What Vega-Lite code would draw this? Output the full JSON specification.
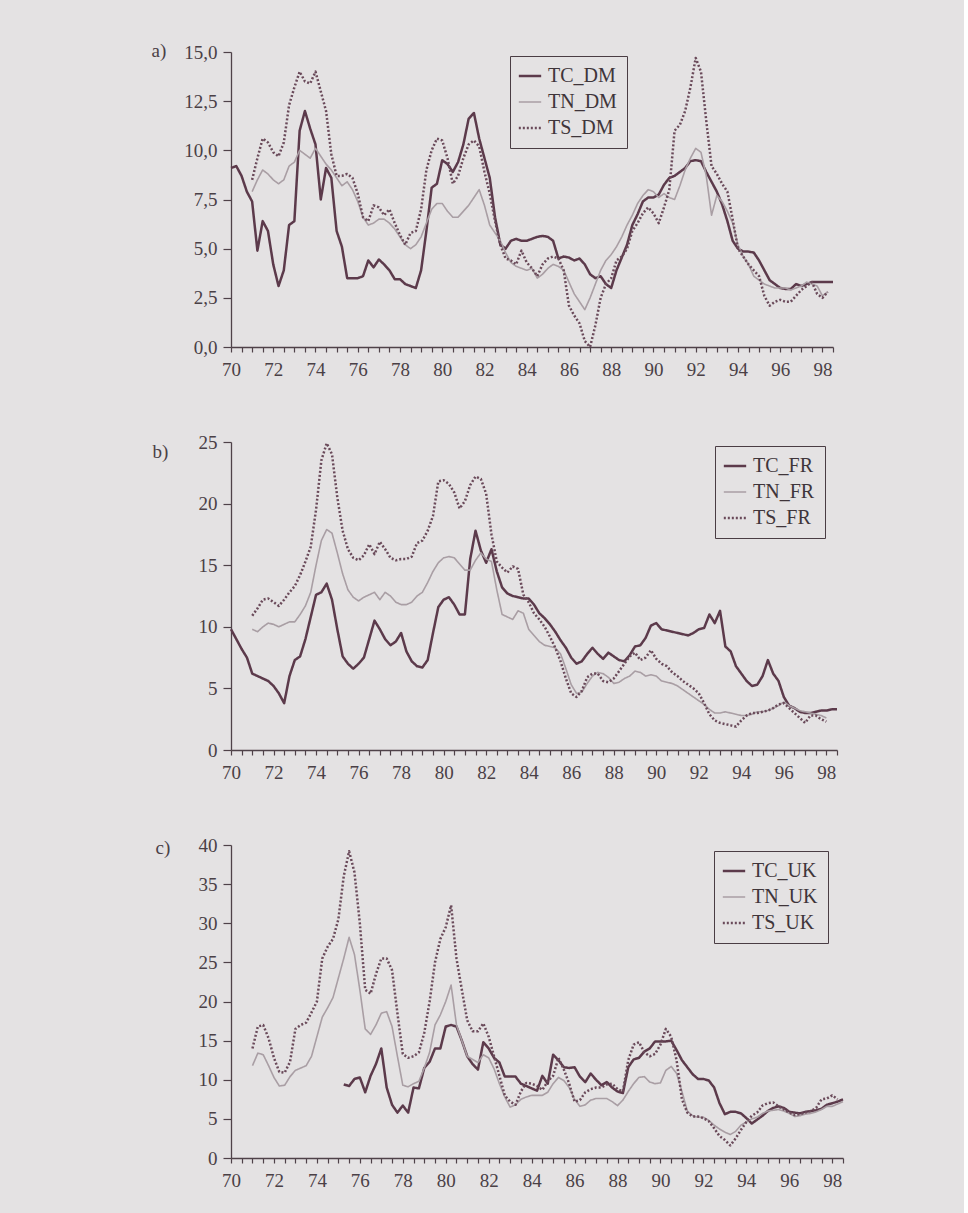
{
  "$schema": "https://vega.github.io/schema/vega-lite/v6.json",
  "background": "#e4e2e3",
  "padding": {"left": 151, "top": 41, "right": 119, "bottom": 30},
  "spacing": 54,
  "datasets": {
    "a": [
      {"t":70,"TC_DM":9.1},{"t":70.25,"TC_DM":9.2},{"t":70.5,"TC_DM":8.7},{"t":70.75,"TC_DM":7.9},
      {"t":71,"TC_DM":7.4,"TN_DM":7.9,"TS_DM":8.5},{"t":71.25,"TC_DM":4.9,"TN_DM":8.5,"TS_DM":9.6},{"t":71.5,"TC_DM":6.4,"TN_DM":9.0,"TS_DM":10.6},{"t":71.75,"TC_DM":5.9,"TN_DM":8.8,"TS_DM":10.4},
      {"t":72,"TC_DM":4.2,"TN_DM":8.5,"TS_DM":9.9},{"t":72.25,"TC_DM":3.1,"TN_DM":8.3,"TS_DM":9.7},{"t":72.5,"TC_DM":3.9,"TN_DM":8.5,"TS_DM":10.4},{"t":72.75,"TC_DM":6.2,"TN_DM":9.2,"TS_DM":12.3},
      {"t":73,"TC_DM":6.4,"TN_DM":9.4,"TS_DM":13.2},{"t":73.25,"TC_DM":11.0,"TN_DM":10.0,"TS_DM":14.0},{"t":73.5,"TC_DM":12.0,"TN_DM":9.8,"TS_DM":13.5},{"t":73.75,"TC_DM":11.1,"TN_DM":9.6,"TS_DM":13.4},
      {"t":74,"TC_DM":10.3,"TN_DM":10.1,"TS_DM":14.0},{"t":74.25,"TC_DM":7.5,"TN_DM":9.7,"TS_DM":13.0},{"t":74.5,"TC_DM":9.1,"TN_DM":9.3,"TS_DM":12.0},{"t":74.75,"TC_DM":8.6,"TN_DM":9.0,"TS_DM":9.8},
      {"t":75,"TC_DM":5.9,"TN_DM":8.6,"TS_DM":8.7},{"t":75.25,"TC_DM":5.1,"TN_DM":8.2,"TS_DM":8.7},{"t":75.5,"TC_DM":3.5,"TN_DM":8.4,"TS_DM":8.8},{"t":75.75,"TC_DM":3.5,"TN_DM":8.0,"TS_DM":8.6},
      {"t":76,"TC_DM":3.5,"TN_DM":7.4,"TS_DM":7.8},{"t":76.25,"TC_DM":3.6,"TN_DM":6.6,"TS_DM":6.6},{"t":76.5,"TC_DM":4.4,"TN_DM":6.2,"TS_DM":6.4},{"t":76.75,"TC_DM":4.05,"TN_DM":6.3,"TS_DM":7.2},
      {"t":77,"TC_DM":4.45,"TN_DM":6.5,"TS_DM":7.1},{"t":77.25,"TC_DM":4.2,"TN_DM":6.5,"TS_DM":6.7},{"t":77.5,"TC_DM":3.9,"TN_DM":6.3,"TS_DM":7.0},{"t":77.75,"TC_DM":3.45,"TN_DM":6.0,"TS_DM":6.3},
      {"t":78,"TC_DM":3.45,"TN_DM":5.6,"TS_DM":5.7},{"t":78.25,"TC_DM":3.2,"TN_DM":5.2,"TS_DM":5.2},{"t":78.5,"TC_DM":3.1,"TN_DM":5.0,"TS_DM":5.8},{"t":78.75,"TC_DM":3.0,"TN_DM":5.2,"TS_DM":5.9},
      {"t":79,"TC_DM":3.9,"TN_DM":5.6,"TS_DM":7.0},{"t":79.25,"TC_DM":5.9,"TN_DM":6.3,"TS_DM":9.0},{"t":79.5,"TC_DM":8.1,"TN_DM":7.0,"TS_DM":10.0},{"t":79.75,"TC_DM":8.3,"TN_DM":7.3,"TS_DM":10.6},
      {"t":80,"TC_DM":9.5,"TN_DM":7.3,"TS_DM":10.5},{"t":80.25,"TC_DM":9.3,"TN_DM":6.9,"TS_DM":9.6},{"t":80.5,"TC_DM":8.9,"TN_DM":6.6,"TS_DM":8.3},{"t":80.75,"TC_DM":9.4,"TN_DM":6.6,"TS_DM":8.7},
      {"t":81,"TC_DM":10.3,"TN_DM":6.9,"TS_DM":9.6},{"t":81.25,"TC_DM":11.6,"TN_DM":7.2,"TS_DM":10.3},{"t":81.5,"TC_DM":11.9,"TN_DM":7.6,"TS_DM":10.5},{"t":81.75,"TC_DM":10.6,"TN_DM":8.0,"TS_DM":10.2},
      {"t":82,"TC_DM":9.6,"TN_DM":7.2,"TS_DM":8.9},{"t":82.25,"TC_DM":8.6,"TN_DM":6.2,"TS_DM":7.8},{"t":82.5,"TC_DM":6.6,"TN_DM":5.8,"TS_DM":6.4},{"t":82.75,"TC_DM":5.2,"TN_DM":5.4,"TS_DM":5.2},
      {"t":83,"TC_DM":5.0,"TN_DM":4.8,"TS_DM":4.5},{"t":83.25,"TC_DM":5.4,"TN_DM":4.3,"TS_DM":4.4},{"t":83.5,"TC_DM":5.5,"TN_DM":4.1,"TS_DM":4.2},{"t":83.75,"TC_DM":5.4,"TN_DM":4.0,"TS_DM":4.9},
      {"t":84,"TC_DM":5.4,"TN_DM":3.9,"TS_DM":4.3},{"t":84.25,"TC_DM":5.5,"TN_DM":4.0,"TS_DM":4.0},{"t":84.5,"TC_DM":5.6,"TN_DM":3.5,"TS_DM":3.6},{"t":84.75,"TC_DM":5.65,"TN_DM":3.7,"TS_DM":4.2},
      {"t":85,"TC_DM":5.6,"TN_DM":4.0,"TS_DM":4.5},{"t":85.25,"TC_DM":5.4,"TN_DM":4.2,"TS_DM":4.6},{"t":85.5,"TC_DM":4.5,"TN_DM":4.1,"TS_DM":4.5},{"t":85.75,"TC_DM":4.6,"TN_DM":3.9,"TS_DM":3.9},
      {"t":86,"TC_DM":4.55,"TN_DM":3.3,"TS_DM":2.1},{"t":86.25,"TC_DM":4.4,"TN_DM":2.7,"TS_DM":1.6},{"t":86.5,"TC_DM":4.5,"TN_DM":2.3,"TS_DM":1.2},{"t":86.75,"TC_DM":4.2,"TN_DM":1.9,"TS_DM":0.3},
      {"t":87,"TC_DM":3.7,"TN_DM":2.5,"TS_DM":0.0},{"t":87.25,"TC_DM":3.5,"TN_DM":3.2,"TS_DM":1.1},{"t":87.5,"TC_DM":3.6,"TN_DM":3.9,"TS_DM":2.5},{"t":87.75,"TC_DM":3.2,"TN_DM":4.4,"TS_DM":3.2},
      {"t":88,"TC_DM":3.0,"TN_DM":4.7,"TS_DM":3.5},{"t":88.25,"TC_DM":3.9,"TN_DM":5.1,"TS_DM":4.4},{"t":88.5,"TC_DM":4.55,"TN_DM":5.6,"TS_DM":4.6},{"t":88.75,"TC_DM":5.2,"TN_DM":6.2,"TS_DM":5.0},
      {"t":89,"TC_DM":6.2,"TN_DM":6.7,"TS_DM":5.9},{"t":89.25,"TC_DM":6.75,"TN_DM":7.3,"TS_DM":6.3},{"t":89.5,"TC_DM":7.4,"TN_DM":7.7,"TS_DM":6.8},{"t":89.75,"TC_DM":7.6,"TN_DM":8.0,"TS_DM":7.1},
      {"t":90,"TC_DM":7.6,"TN_DM":7.9,"TS_DM":6.8},{"t":90.25,"TC_DM":7.75,"TN_DM":7.6,"TS_DM":6.3},{"t":90.5,"TC_DM":8.25,"TN_DM":7.8,"TS_DM":7.1},{"t":90.75,"TC_DM":8.6,"TN_DM":7.6,"TS_DM":8.0},
      {"t":91,"TC_DM":8.7,"TN_DM":7.5,"TS_DM":11.0},{"t":91.25,"TC_DM":8.9,"TN_DM":8.2,"TS_DM":11.3},{"t":91.5,"TC_DM":9.1,"TN_DM":9.0,"TS_DM":12.0},{"t":91.75,"TC_DM":9.45,"TN_DM":9.6,"TS_DM":13.2},
      {"t":92,"TC_DM":9.5,"TN_DM":10.1,"TS_DM":14.7},{"t":92.25,"TC_DM":9.45,"TN_DM":9.9,"TS_DM":14.0},{"t":92.5,"TC_DM":8.9,"TN_DM":8.7,"TS_DM":11.5},{"t":92.75,"TC_DM":8.4,"TN_DM":6.7,"TS_DM":9.2},
      {"t":93,"TC_DM":7.9,"TN_DM":7.7,"TS_DM":8.8},{"t":93.25,"TC_DM":7.25,"TN_DM":7.4,"TS_DM":8.3},{"t":93.5,"TC_DM":6.4,"TN_DM":6.9,"TS_DM":7.9},{"t":93.75,"TC_DM":5.4,"TN_DM":6.3,"TS_DM":6.5},
      {"t":94,"TC_DM":5.0,"TN_DM":5.2,"TS_DM":5.0},{"t":94.25,"TC_DM":4.85,"TN_DM":4.6,"TS_DM":4.6},{"t":94.5,"TC_DM":4.85,"TN_DM":4.2,"TS_DM":4.2},{"t":94.75,"TC_DM":4.8,"TN_DM":3.6,"TS_DM":3.9},
      {"t":95,"TC_DM":4.4,"TN_DM":3.4,"TS_DM":3.6},{"t":95.25,"TC_DM":3.9,"TN_DM":3.2,"TS_DM":2.6},{"t":95.5,"TC_DM":3.4,"TN_DM":3.1,"TS_DM":2.1},{"t":95.75,"TC_DM":3.2,"TN_DM":3.0,"TS_DM":2.3},
      {"t":96,"TC_DM":3.0,"TN_DM":3.0,"TS_DM":2.4},{"t":96.25,"TC_DM":2.95,"TN_DM":3.0,"TS_DM":2.3},{"t":96.5,"TC_DM":2.95,"TN_DM":2.9,"TS_DM":2.3},{"t":96.75,"TC_DM":3.2,"TN_DM":3.0,"TS_DM":2.6},
      {"t":97,"TC_DM":3.1,"TN_DM":3.1,"TS_DM":2.9},{"t":97.25,"TC_DM":3.2,"TN_DM":3.3,"TS_DM":3.1},{"t":97.5,"TC_DM":3.3,"TN_DM":3.2,"TS_DM":3.3},{"t":97.75,"TC_DM":3.3,"TN_DM":3.1,"TS_DM":2.7},
      {"t":98,"TC_DM":3.3,"TN_DM":2.6,"TS_DM":2.5},{"t":98.25,"TC_DM":3.3,"TN_DM":2.8,"TS_DM":2.8},{"t":98.5,"TC_DM":3.3}
    ],
    "b": [
      {"t":70,"TC_FR":9.8},{"t":70.25,"TC_FR":9.0},{"t":70.5,"TC_FR":8.2},{"t":70.75,"TC_FR":7.5},
      {"t":71,"TC_FR":6.2,"TN_FR":9.8,"TS_FR":10.9},{"t":71.25,"TC_FR":6.0,"TN_FR":9.6,"TS_FR":11.5},{"t":71.5,"TC_FR":5.8,"TN_FR":10.0,"TS_FR":12.2},{"t":71.75,"TC_FR":5.6,"TN_FR":10.3,"TS_FR":12.3},
      {"t":72,"TC_FR":5.2,"TN_FR":10.2,"TS_FR":12.0},{"t":72.25,"TC_FR":4.6,"TN_FR":10.0,"TS_FR":11.7},{"t":72.5,"TC_FR":3.8,"TN_FR":10.2,"TS_FR":12.2},{"t":72.75,"TC_FR":6.0,"TN_FR":10.4,"TS_FR":12.8},
      {"t":73,"TC_FR":7.3,"TN_FR":10.4,"TS_FR":13.3},{"t":73.25,"TC_FR":7.6,"TN_FR":11.0,"TS_FR":14.2},{"t":73.5,"TC_FR":9.0,"TN_FR":11.7,"TS_FR":15.3},{"t":73.75,"TC_FR":10.8,"TN_FR":12.8,"TS_FR":16.5},
      {"t":74,"TC_FR":12.6,"TN_FR":15.0,"TS_FR":19.5},{"t":74.25,"TC_FR":12.8,"TN_FR":17.0,"TS_FR":23.5},{"t":74.5,"TC_FR":13.5,"TN_FR":17.9,"TS_FR":24.9},{"t":74.75,"TC_FR":12.2,"TN_FR":17.6,"TS_FR":24.0},
      {"t":75,"TC_FR":9.8,"TN_FR":16.0,"TS_FR":20.5},{"t":75.25,"TC_FR":7.6,"TN_FR":14.3,"TS_FR":17.8},{"t":75.5,"TC_FR":7.0,"TN_FR":13.0,"TS_FR":16.3},{"t":75.75,"TC_FR":6.6,"TN_FR":12.4,"TS_FR":15.6},
      {"t":76,"TC_FR":7.0,"TN_FR":12.1,"TS_FR":15.4},{"t":76.25,"TC_FR":7.5,"TN_FR":12.4,"TS_FR":15.8},{"t":76.5,"TC_FR":9.0,"TN_FR":12.6,"TS_FR":16.7},{"t":76.75,"TC_FR":10.5,"TN_FR":12.8,"TS_FR":15.9},
      {"t":77,"TC_FR":9.8,"TN_FR":12.2,"TS_FR":16.9},{"t":77.25,"TC_FR":9.0,"TN_FR":12.8,"TS_FR":16.3},{"t":77.5,"TC_FR":8.5,"TN_FR":12.5,"TS_FR":15.6},{"t":77.75,"TC_FR":8.8,"TN_FR":12.0,"TS_FR":15.4},
      {"t":78,"TC_FR":9.5,"TN_FR":11.8,"TS_FR":15.5},{"t":78.25,"TC_FR":8.0,"TN_FR":11.8,"TS_FR":15.5},{"t":78.5,"TC_FR":7.2,"TN_FR":12.0,"TS_FR":15.7},{"t":78.75,"TC_FR":6.8,"TN_FR":12.5,"TS_FR":16.8},
      {"t":79,"TC_FR":6.7,"TN_FR":12.8,"TS_FR":17.0},{"t":79.25,"TC_FR":7.3,"TN_FR":13.6,"TS_FR":17.8},{"t":79.5,"TC_FR":9.5,"TN_FR":14.5,"TS_FR":19.0},{"t":79.75,"TC_FR":11.6,"TN_FR":15.2,"TS_FR":21.8},
      {"t":80,"TC_FR":12.2,"TN_FR":15.6,"TS_FR":21.9},{"t":80.25,"TC_FR":12.4,"TN_FR":15.7,"TS_FR":21.6},{"t":80.5,"TC_FR":11.8,"TN_FR":15.6,"TS_FR":20.9},{"t":80.75,"TC_FR":11.0,"TN_FR":15.1,"TS_FR":19.6},
      {"t":81,"TC_FR":11.0,"TN_FR":14.6,"TS_FR":20.2},{"t":81.25,"TC_FR":15.5,"TN_FR":14.6,"TS_FR":21.5},{"t":81.5,"TC_FR":17.8,"TN_FR":15.4,"TS_FR":22.2},{"t":81.75,"TC_FR":16.2,"TN_FR":16.0,"TS_FR":22.0},
      {"t":82,"TC_FR":15.2,"TN_FR":15.5,"TS_FR":20.8},{"t":82.25,"TC_FR":16.3,"TN_FR":15.3,"TS_FR":17.5},{"t":82.5,"TC_FR":14.5,"TN_FR":13.0,"TS_FR":15.3},{"t":82.75,"TC_FR":13.2,"TN_FR":11.0,"TS_FR":14.8},
      {"t":83,"TC_FR":12.7,"TN_FR":10.8,"TS_FR":14.4},{"t":83.25,"TC_FR":12.5,"TN_FR":10.6,"TS_FR":14.9},{"t":83.5,"TC_FR":12.4,"TN_FR":11.3,"TS_FR":14.7},{"t":83.75,"TC_FR":12.3,"TN_FR":11.1,"TS_FR":12.6},
      {"t":84,"TC_FR":12.3,"TN_FR":9.8,"TS_FR":12.0},{"t":84.25,"TC_FR":11.8,"TN_FR":9.3,"TS_FR":11.1},{"t":84.5,"TC_FR":11.1,"TN_FR":8.8,"TS_FR":10.6},{"t":84.75,"TC_FR":10.7,"TN_FR":8.5,"TS_FR":10.0},
      {"t":85,"TC_FR":10.2,"TN_FR":8.4,"TS_FR":9.2},{"t":85.25,"TC_FR":9.6,"TN_FR":8.3,"TS_FR":8.3},{"t":85.5,"TC_FR":8.9,"TN_FR":7.8,"TS_FR":7.2},{"t":85.75,"TC_FR":8.3,"TN_FR":6.6,"TS_FR":5.8},
      {"t":86,"TC_FR":7.5,"TN_FR":5.3,"TS_FR":4.6},{"t":86.25,"TC_FR":7.0,"TN_FR":4.6,"TS_FR":4.3},{"t":86.5,"TC_FR":7.2,"TN_FR":4.7,"TS_FR":4.8},{"t":86.75,"TC_FR":7.8,"TN_FR":5.4,"TS_FR":5.9},
      {"t":87,"TC_FR":8.3,"TN_FR":6.0,"TS_FR":6.2},{"t":87.25,"TC_FR":7.8,"TN_FR":6.3,"TS_FR":6.2},{"t":87.5,"TC_FR":7.4,"TN_FR":6.2,"TS_FR":5.6},{"t":87.75,"TC_FR":7.9,"TN_FR":5.9,"TS_FR":5.5},
      {"t":88,"TC_FR":7.6,"TN_FR":5.4,"TS_FR":5.8},{"t":88.25,"TC_FR":7.3,"TN_FR":5.5,"TS_FR":6.4},{"t":88.5,"TC_FR":7.2,"TN_FR":5.8,"TS_FR":7.0},{"t":88.75,"TC_FR":7.7,"TN_FR":6.0,"TS_FR":7.6},
      {"t":89,"TC_FR":8.4,"TN_FR":6.4,"TS_FR":7.9},{"t":89.25,"TC_FR":8.5,"TN_FR":6.3,"TS_FR":7.3},{"t":89.5,"TC_FR":9.1,"TN_FR":6.0,"TS_FR":7.5},{"t":89.75,"TC_FR":10.1,"TN_FR":6.1,"TS_FR":8.1},
      {"t":90,"TC_FR":10.3,"TN_FR":6.0,"TS_FR":7.4},{"t":90.25,"TC_FR":9.8,"TN_FR":5.6,"TS_FR":7.0},{"t":90.5,"TC_FR":9.7,"TN_FR":5.5,"TS_FR":6.8},{"t":90.75,"TC_FR":9.6,"TN_FR":5.4,"TS_FR":6.3},
      {"t":91,"TC_FR":9.5,"TN_FR":5.2,"TS_FR":6.0},{"t":91.25,"TC_FR":9.4,"TN_FR":4.9,"TS_FR":5.6},{"t":91.5,"TC_FR":9.3,"TN_FR":4.6,"TS_FR":5.3},{"t":91.75,"TC_FR":9.5,"TN_FR":4.3,"TS_FR":5.0},
      {"t":92,"TC_FR":9.8,"TN_FR":4.0,"TS_FR":4.6},{"t":92.25,"TC_FR":9.9,"TN_FR":3.7,"TS_FR":3.8},{"t":92.5,"TC_FR":11.0,"TN_FR":3.3,"TS_FR":2.9},{"t":92.75,"TC_FR":10.3,"TN_FR":3.0,"TS_FR":2.4},
      {"t":93,"TC_FR":11.3,"TN_FR":3.0,"TS_FR":2.2},{"t":93.25,"TC_FR":8.4,"TN_FR":3.1,"TS_FR":2.1},{"t":93.5,"TC_FR":8.0,"TN_FR":3.0,"TS_FR":2.0},{"t":93.75,"TC_FR":6.8,"TN_FR":2.9,"TS_FR":1.9},
      {"t":94,"TC_FR":6.2,"TN_FR":2.8,"TS_FR":2.4},{"t":94.25,"TC_FR":5.6,"TN_FR":2.8,"TS_FR":2.8},{"t":94.5,"TC_FR":5.2,"TN_FR":2.9,"TS_FR":3.0},{"t":94.75,"TC_FR":5.3,"TN_FR":3.1,"TS_FR":3.0},
      {"t":95,"TC_FR":6.0,"TN_FR":3.1,"TS_FR":3.1},{"t":95.25,"TC_FR":7.3,"TN_FR":3.2,"TS_FR":3.2},{"t":95.5,"TC_FR":6.2,"TN_FR":3.4,"TS_FR":3.4},{"t":95.75,"TC_FR":5.6,"TN_FR":3.6,"TS_FR":3.7},
      {"t":96,"TC_FR":4.3,"TN_FR":3.9,"TS_FR":3.8},{"t":96.25,"TC_FR":3.6,"TN_FR":3.6,"TS_FR":3.4},{"t":96.5,"TC_FR":3.4,"TN_FR":3.4,"TS_FR":3.0},{"t":96.75,"TC_FR":3.1,"TN_FR":3.2,"TS_FR":2.6},
      {"t":97,"TC_FR":3.0,"TN_FR":3.1,"TS_FR":2.2},{"t":97.25,"TC_FR":3.0,"TN_FR":3.0,"TS_FR":2.8},{"t":97.5,"TC_FR":3.1,"TN_FR":2.9,"TS_FR":2.8},{"t":97.75,"TC_FR":3.2,"TN_FR":2.8,"TS_FR":2.5},
      {"t":98,"TC_FR":3.2,"TN_FR":2.6,"TS_FR":2.3},{"t":98.25,"TC_FR":3.3},{"t":98.5,"TC_FR":3.3}
    ],
    "c": [
      {"t":71,"TN_UK":11.8,"TS_UK":14.0},{"t":71.25,"TN_UK":13.4,"TS_UK":16.8},{"t":71.5,"TN_UK":13.2,"TS_UK":17.0},{"t":71.75,"TN_UK":11.8,"TS_UK":15.3},
      {"t":72,"TN_UK":10.3,"TS_UK":12.8},{"t":72.25,"TN_UK":9.2,"TS_UK":11.0},{"t":72.5,"TN_UK":9.3,"TS_UK":10.9},{"t":72.75,"TN_UK":10.4,"TS_UK":12.3},
      {"t":73,"TN_UK":11.2,"TS_UK":16.5},{"t":73.25,"TN_UK":11.5,"TS_UK":17.0},{"t":73.5,"TN_UK":11.8,"TS_UK":17.3},{"t":73.75,"TN_UK":13.0,"TS_UK":18.6},
      {"t":74,"TN_UK":15.5,"TS_UK":20.0},{"t":74.25,"TN_UK":18.0,"TS_UK":25.5},{"t":74.5,"TN_UK":19.2,"TS_UK":27.0},{"t":74.75,"TN_UK":20.5,"TS_UK":28.0},
      {"t":75,"TN_UK":23.0,"TS_UK":30.5},{"t":75.25,"TC_UK":9.4,"TN_UK":25.5,"TS_UK":36.0},{"t":75.5,"TC_UK":9.2,"TN_UK":28.2,"TS_UK":39.2},{"t":75.75,"TC_UK":10.1,"TN_UK":26.0,"TS_UK":36.5},
      {"t":76,"TC_UK":10.3,"TN_UK":21.5,"TS_UK":30.0},{"t":76.25,"TC_UK":8.4,"TN_UK":16.5,"TS_UK":21.5},{"t":76.5,"TC_UK":10.5,"TN_UK":15.8,"TS_UK":21.0},{"t":76.75,"TC_UK":12.0,"TN_UK":17.0,"TS_UK":23.5},
      {"t":77,"TC_UK":14.0,"TN_UK":18.5,"TS_UK":25.5},{"t":77.25,"TC_UK":9.0,"TN_UK":18.7,"TS_UK":25.5},{"t":77.5,"TC_UK":6.8,"TN_UK":16.8,"TS_UK":24.0},{"t":77.75,"TC_UK":5.8,"TN_UK":13.0,"TS_UK":18.5},
      {"t":78,"TC_UK":6.7,"TN_UK":9.3,"TS_UK":13.3},{"t":78.25,"TC_UK":5.8,"TN_UK":9.1,"TS_UK":12.8},{"t":78.5,"TC_UK":9.0,"TN_UK":9.5,"TS_UK":13.0},{"t":78.75,"TC_UK":8.9,"TN_UK":9.8,"TS_UK":13.5},
      {"t":79,"TC_UK":11.5,"TN_UK":11.5,"TS_UK":16.0},{"t":79.25,"TC_UK":12.3,"TN_UK":13.5,"TS_UK":20.0},{"t":79.5,"TC_UK":14.0,"TN_UK":17.0,"TS_UK":25.0},{"t":79.75,"TC_UK":14.0,"TN_UK":18.3,"TS_UK":28.0},
      {"t":80,"TC_UK":16.8,"TN_UK":20.0,"TS_UK":29.5},{"t":80.25,"TC_UK":17.0,"TN_UK":22.1,"TS_UK":32.3},{"t":80.5,"TC_UK":16.8,"TN_UK":17.0,"TS_UK":25.5},{"t":80.75,"TC_UK":15.0,"TN_UK":15.0,"TS_UK":21.5},
      {"t":81,"TC_UK":13.0,"TN_UK":13.0,"TS_UK":17.6},{"t":81.25,"TC_UK":12.0,"TN_UK":12.6,"TS_UK":16.2},{"t":81.5,"TC_UK":11.3,"TN_UK":12.2,"TS_UK":16.2},{"t":81.75,"TC_UK":14.8,"TN_UK":13.2,"TS_UK":17.2},
      {"t":82,"TC_UK":14.0,"TN_UK":12.8,"TS_UK":15.5},{"t":82.25,"TC_UK":12.8,"TN_UK":11.4,"TS_UK":13.0},{"t":82.5,"TC_UK":12.2,"TN_UK":9.5,"TS_UK":10.5},{"t":82.75,"TC_UK":10.4,"TN_UK":7.8,"TS_UK":8.0},
      {"t":83,"TC_UK":10.4,"TN_UK":6.5,"TS_UK":7.2},{"t":83.25,"TC_UK":10.4,"TN_UK":6.8,"TS_UK":6.8},{"t":83.5,"TC_UK":9.5,"TN_UK":7.5,"TS_UK":8.5},{"t":83.75,"TC_UK":9.2,"TN_UK":7.8,"TS_UK":9.6},
      {"t":84,"TC_UK":8.9,"TN_UK":8.0,"TS_UK":9.5},{"t":84.25,"TC_UK":8.6,"TN_UK":8.0,"TS_UK":9.2},{"t":84.5,"TC_UK":10.5,"TN_UK":8.0,"TS_UK":8.7},{"t":84.75,"TC_UK":9.5,"TN_UK":8.4,"TS_UK":9.8},
      {"t":85,"TC_UK":13.2,"TN_UK":9.5,"TS_UK":10.5},{"t":85.25,"TC_UK":12.5,"TN_UK":10.3,"TS_UK":12.8},{"t":85.5,"TC_UK":11.6,"TN_UK":9.9,"TS_UK":11.3},{"t":85.75,"TC_UK":11.5,"TN_UK":9.0,"TS_UK":9.5},
      {"t":86,"TC_UK":11.6,"TN_UK":7.5,"TS_UK":7.2},{"t":86.25,"TC_UK":10.4,"TN_UK":6.6,"TS_UK":7.4},{"t":86.5,"TC_UK":9.7,"TN_UK":6.8,"TS_UK":8.4},{"t":86.75,"TC_UK":10.8,"TN_UK":7.4,"TS_UK":8.8},
      {"t":87,"TC_UK":10.0,"TN_UK":7.6,"TS_UK":9.0},{"t":87.25,"TC_UK":9.3,"TN_UK":7.6,"TS_UK":9.0},{"t":87.5,"TC_UK":9.7,"TN_UK":7.6,"TS_UK":9.4},{"t":87.75,"TC_UK":9.0,"TN_UK":7.2,"TS_UK":9.5},
      {"t":88,"TC_UK":8.5,"TN_UK":6.7,"TS_UK":8.8},{"t":88.25,"TC_UK":8.3,"TN_UK":7.4,"TS_UK":8.5},{"t":88.5,"TC_UK":11.6,"TN_UK":8.5,"TS_UK":12.5},{"t":88.75,"TC_UK":12.6,"TN_UK":9.5,"TS_UK":14.5},
      {"t":89,"TC_UK":12.8,"TN_UK":10.3,"TS_UK":14.8},{"t":89.25,"TC_UK":13.6,"TN_UK":10.4,"TS_UK":13.5},{"t":89.5,"TC_UK":14.0,"TN_UK":9.7,"TS_UK":13.0},{"t":89.75,"TC_UK":14.9,"TN_UK":9.5,"TS_UK":13.3},
      {"t":90,"TC_UK":14.9,"TN_UK":9.6,"TS_UK":14.5},{"t":90.25,"TC_UK":14.9,"TN_UK":11.2,"TS_UK":16.5},{"t":90.5,"TC_UK":15.0,"TN_UK":11.7,"TS_UK":15.5},{"t":90.75,"TC_UK":13.8,"TN_UK":10.8,"TS_UK":12.5},
      {"t":91,"TC_UK":12.5,"TN_UK":8.5,"TS_UK":7.5},{"t":91.25,"TC_UK":11.6,"TN_UK":6.0,"TS_UK":5.8},{"t":91.5,"TC_UK":10.7,"TN_UK":5.4,"TS_UK":5.3},{"t":91.75,"TC_UK":10.1,"TN_UK":5.2,"TS_UK":5.3},
      {"t":92,"TC_UK":10.1,"TN_UK":5.2,"TS_UK":5.1},{"t":92.25,"TC_UK":9.9,"TN_UK":4.8,"TS_UK":4.7},{"t":92.5,"TC_UK":9.0,"TN_UK":4.2,"TS_UK":3.8},{"t":92.75,"TC_UK":7.0,"TN_UK":3.7,"TS_UK":2.8},
      {"t":93,"TC_UK":5.6,"TN_UK":3.3,"TS_UK":2.3},{"t":93.25,"TC_UK":5.9,"TN_UK":3.0,"TS_UK":1.6},{"t":93.5,"TC_UK":5.9,"TN_UK":3.4,"TS_UK":2.5},{"t":93.75,"TC_UK":5.7,"TN_UK":4.2,"TS_UK":3.6},
      {"t":94,"TC_UK":5.1,"TN_UK":4.6,"TS_UK":4.6},{"t":94.25,"TC_UK":4.4,"TN_UK":5.0,"TS_UK":5.4},{"t":94.5,"TC_UK":4.9,"TN_UK":5.2,"TS_UK":5.8},{"t":94.75,"TC_UK":5.4,"TN_UK":5.7,"TS_UK":6.7},
      {"t":95,"TC_UK":6.0,"TN_UK":6.0,"TS_UK":7.0},{"t":95.25,"TC_UK":6.4,"TN_UK":6.1,"TS_UK":7.1},{"t":95.5,"TC_UK":6.6,"TN_UK":6.2,"TS_UK":6.6},{"t":95.75,"TC_UK":6.4,"TN_UK":6.0,"TS_UK":6.2},
      {"t":96,"TC_UK":5.9,"TN_UK":5.7,"TS_UK":5.8},{"t":96.25,"TC_UK":5.8,"TN_UK":5.3,"TS_UK":5.5},{"t":96.5,"TC_UK":5.7,"TN_UK":5.4,"TS_UK":5.6},{"t":96.75,"TC_UK":5.9,"TN_UK":5.6,"TS_UK":5.8},
      {"t":97,"TC_UK":6.0,"TN_UK":5.7,"TS_UK":6.0},{"t":97.25,"TC_UK":6.1,"TN_UK":5.9,"TS_UK":6.4},{"t":97.5,"TC_UK":6.3,"TN_UK":6.2,"TS_UK":7.5},{"t":97.75,"TC_UK":6.8,"TN_UK":6.6,"TS_UK":7.6},
      {"t":98,"TC_UK":7.0,"TN_UK":6.6,"TS_UK":8.0},{"t":98.25,"TC_UK":7.2,"TN_UK":6.9,"TS_UK":7.5},{"t":98.5,"TC_UK":7.5,"TN_UK":7.2}
    ]
  },
  "vconcat": [
    {
      "width": 602, "height": 295,
      "data": {"name": "a"},
      "transform": [{"fold": ["TC_DM", "TN_DM", "TS_DM"], "as": ["series", "value"]}],
      "mark": {"type": "line", "strokeCap": "butt", "strokeJoin": "round"},
      "encoding": {
        "x": {"field": "t", "type": "quantitative", "scale": {"domain": [70, 98.5], "nice": false, "zero": false},
              "axis": {"title": null, "values": [70,70.5,71,71.5,72,72.5,73,73.5,74,74.5,75,75.5,76,76.5,77,77.5,78,78.5,79,79.5,80,80.5,81,81.5,82,82.5,83,83.5,84,84.5,85,85.5,86,86.5,87,87.5,88,88.5,89,89.5,90,90.5,91,91.5,92,92.5,93,93.5,94,94.5,95,95.5,96,96.5,97,97.5,98,98.5], "labelExpr": "datum.value % 2 === 0 ? format(datum.value, 'd') : ''"}},
        "y": {"field": "value", "type": "quantitative", "scale": {"domain": [0, 15], "nice": false},
              "axis": {"title": "a)", "titleX": -80, "titleY": -2, "values": [0, 2.5, 5, 7.5, 10, 12.5, 15], "labelExpr": "replace(format(datum.value, '.1f'), '.', ',')"}},
        "color": {"field": "series", "type": "nominal", "scale": {"domain": ["TC_DM", "TN_DM", "TS_DM"], "range": ["#5c3a4b", "#a99ea4", "#6a4a5a"]},
                  "legend": {"title": null, "orient": "none", "legendX": 279, "legendY": 4, "encode": {"symbols": {"update": {"strokeWidth": {"signal": "datum.value === 'TN_DM' ? 1.6 : 2.5"}}}}}},
        "strokeDash": {"field": "series", "type": "nominal", "scale": {"domain": ["TC_DM", "TN_DM", "TS_DM"], "range": [[1, 0], [1, 0], [2, 2]]}},
        "strokeWidth": {"condition": {"test": "datum.series === 'TN_DM'", "value": 1.6}, "value": 2.5}
      }
    },
    {
      "width": 606, "height": 308,
      "data": {"name": "b"},
      "transform": [{"fold": ["TC_FR", "TN_FR", "TS_FR"], "as": ["series", "value"]}],
      "mark": {"type": "line", "strokeCap": "butt", "strokeJoin": "round"},
      "encoding": {
        "x": {"field": "t", "type": "quantitative", "scale": {"domain": [70, 98.5], "nice": false, "zero": false},
              "axis": {"title": null, "values": [70,70.5,71,71.5,72,72.5,73,73.5,74,74.5,75,75.5,76,76.5,77,77.5,78,78.5,79,79.5,80,80.5,81,81.5,82,82.5,83,83.5,84,84.5,85,85.5,86,86.5,87,87.5,88,88.5,89,89.5,90,90.5,91,91.5,92,92.5,93,93.5,94,94.5,95,95.5,96,96.5,97,97.5,98,98.5], "labelExpr": "datum.value % 2 === 0 ? format(datum.value, 'd') : ''"}},
        "y": {"field": "value", "type": "quantitative", "scale": {"domain": [0, 25], "nice": false},
              "axis": {"title": "b)", "titleX": -79, "titleY": 9, "values": [0, 5, 10, 15, 20, 25], "format": "d"}},
        "color": {"field": "series", "type": "nominal", "scale": {"domain": ["TC_FR", "TN_FR", "TS_FR"], "range": ["#5c3a4b", "#a99ea4", "#6a4a5a"]},
                  "legend": {"title": null, "orient": "none", "legendX": 484, "legendY": 4, "encode": {"symbols": {"update": {"strokeWidth": {"signal": "datum.value === 'TN_FR' ? 1.6 : 2.5"}}}}}},
        "strokeDash": {"field": "series", "type": "nominal", "scale": {"domain": ["TC_FR", "TN_FR", "TS_FR"], "range": [[1, 0], [1, 0], [2, 2]]}},
        "strokeWidth": {"condition": {"test": "datum.series === 'TN_FR'", "value": 1.6}, "value": 2.5}
      }
    },
    {
      "width": 612, "height": 313,
      "data": {"name": "c"},
      "transform": [{"fold": ["TC_UK", "TN_UK", "TS_UK"], "as": ["series", "value"]}],
      "mark": {"type": "line", "strokeCap": "butt", "strokeJoin": "round"},
      "encoding": {
        "x": {"field": "t", "type": "quantitative", "scale": {"domain": [70, 98.5], "nice": false, "zero": false},
              "axis": {"title": null, "values": [70,70.5,71,71.5,72,72.5,73,73.5,74,74.5,75,75.5,76,76.5,77,77.5,78,78.5,79,79.5,80,80.5,81,81.5,82,82.5,83,83.5,84,84.5,85,85.5,86,86.5,87,87.5,88,88.5,89,89.5,90,90.5,91,91.5,92,92.5,93,93.5,94,94.5,95,95.5,96,96.5,97,97.5,98,98.5], "labelExpr": "datum.value % 2 === 0 ? format(datum.value, 'd') : ''"}},
        "y": {"field": "value", "type": "quantitative", "scale": {"domain": [0, 40], "nice": false},
              "axis": {"title": "c)", "titleX": -76, "titleY": 2, "values": [0, 5, 10, 15, 20, 25, 30, 35, 40], "format": "d"}},
        "color": {"field": "series", "type": "nominal", "scale": {"domain": ["TC_UK", "TN_UK", "TS_UK"], "range": ["#5c3a4b", "#a99ea4", "#6a4a5a"]},
                  "legend": {"title": null, "orient": "none", "legendX": 483, "legendY": 6, "encode": {"symbols": {"update": {"strokeWidth": {"signal": "datum.value === 'TN_UK' ? 1.6 : 2.5"}}}}}},
        "strokeDash": {"field": "series", "type": "nominal", "scale": {"domain": ["TC_UK", "TN_UK", "TS_UK"], "range": [[1, 0], [1, 0], [2, 2]]}},
        "strokeWidth": {"condition": {"test": "datum.series === 'TN_UK'", "value": 1.6}, "value": 2.5}
      }
    }
  ],
  "resolve": {"scale": {"color": "independent", "strokeDash": "independent"}, "legend": {"color": "independent", "strokeDash": "independent"}},
  "config": {
    "font": "Liberation Serif, DejaVu Serif, serif",
    "view": {"stroke": null},
    "axis": {"labelFont": "Liberation Serif, DejaVu Serif, serif", "labelFontSize": 19, "labelColor": "#4a4046", "domainColor": "#4f4249", "tickColor": "#4f4249", "domainWidth": 1.3, "tickWidth": 1.2, "grid": false,
             "titleFont": "Liberation Serif, DejaVu Serif, serif", "titleFontSize": 19, "titleFontWeight": "normal", "titleColor": "#4a4046", "labelFlush": false, "labelOverlap": false},
    "axisX": {"tickSize": 5, "labelPadding": 8},
    "axisY": {"tickSize": 8, "labelPadding": 6, "titleAngle": 0, "titleAlign": "left", "titleBaseline": "middle"},
    "legend": {"strokeColor": "#4a3d44", "padding": 10, "labelFont": "Liberation Serif, DejaVu Serif, serif", "labelFontSize": 20, "labelColor": "#3f353a", "symbolType": "stroke", "symbolSize": 500, "labelOffset": 8, "rowPadding": 6, "labelLimit": 200}
  }
}
